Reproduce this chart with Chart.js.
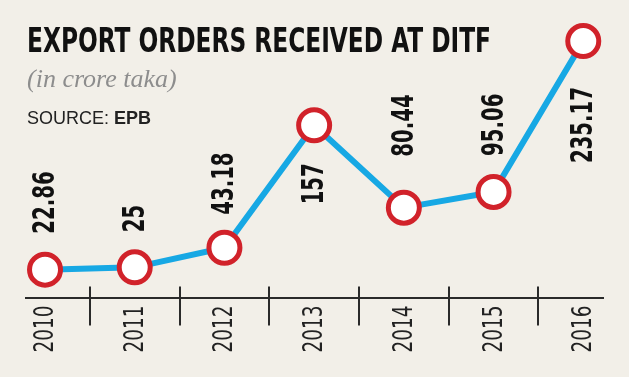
<!DOCTYPE html>
<html>
<head>
<meta charset="utf-8">
<script src="https://cdn.jsdelivr.net/npm/chart.js@4.4.1/dist/chart.umd.min.js"></script>
<style>
  html, body { margin: 0; padding: 0; background: #f2efe8; }
  #exportOrdersChart { display: block; }
</style>
</head>
<body>
<canvas id="exportOrdersChart" width="629" height="377"></canvas>
<script>
// Data
const years = ['2010', '2011', '2012', '2013', '2014', '2015', '2016'];
const orders = [22.86, 25, 43.18, 157, 80.44, 95.06, 235.17];
const orderLabels = ['22.86', '25', '43.18', '157', '80.44', '95.06', '235.17'];

// Texts
const chartTitle = 'EXPORT ORDERS RECEIVED AT DITF';
const chartUnit = '(in crore taka)';
const sourceLead = 'SOURCE: ';
const sourceName = 'EPB';

// Label placement: gap from marker centre, negative = below the marker
const labelGaps = [36, 35, 33, -38, 51, 36, -46];

const narrow = "'Liberation Sans Narrow', 'Arial Narrow', 'DejaVu Sans Condensed', sans-serif";

const headerPlugin = {
    id: 'header',
    beforeDraw(chart) {
        const ctx = chart.ctx;
        ctx.save();
        ctx.fillStyle = '#f2efe8';
        ctx.fillRect(0, 0, chart.width, chart.height);

        ctx.textBaseline = 'alphabetic';
        ctx.textAlign = 'left';
        ctx.fillStyle = '#111';
        ctx.font = "bold 34px " + narrow;
        ctx.fillText(chartTitle, 27, 52, 464);

        ctx.fillStyle = '#8d8d8d';
        ctx.font = "italic 26px 'Liberation Serif', 'DejaVu Serif', serif";
        ctx.fillText(chartUnit, 27, 87);

        ctx.fillStyle = '#222';
        ctx.font = "18px 'Liberation Sans', Arial, sans-serif";
        ctx.fillText(sourceLead, 27, 124);
        const leadW = ctx.measureText(sourceLead).width;
        ctx.font = "bold 18px 'Liberation Sans', Arial, sans-serif";
        ctx.fillText(sourceName, 27 + leadW, 124);
        ctx.restore();
    }
};

// Small separators between the years, crossing the axis line,
// plus the condensed year labels under the axis
const axisPlugin = {
    id: 'axisMarks',
    beforeDatasetsDraw(chart) {
        const ctx = chart.ctx;
        const x = chart.scales.x;
        const base = chart.chartArea.bottom;
        ctx.save();
        ctx.strokeStyle = '#2a2a2a';
        ctx.lineWidth = 2;
        for (let i = 0; i < years.length - 1; i++) {
            const px = Math.round(x.getPixelForValue(i + 0.5));
            ctx.beginPath();
            ctx.moveTo(px, base - 11);
            ctx.lineTo(px, base + 28);
            ctx.stroke();
        }

        ctx.fillStyle = '#222';
        ctx.font = "27px " + narrow;
        ctx.textBaseline = 'middle';
        ctx.textAlign = 'right';
        const squeeze = 47 / ctx.measureText('2010').width;
        years.forEach((yr, i) => {
            ctx.save();
            ctx.translate(x.getPixelForValue(i) + 1, base + 8);
            ctx.rotate(-Math.PI / 2);
            ctx.scale(squeeze, 1);
            ctx.fillText(yr, 0, 0);
            ctx.restore();
        });
        ctx.restore();
    }
};

// Rotated value labels
const valueLabelPlugin = {
    id: 'valueLabels',
    afterDatasetsDraw(chart) {
        const ctx = chart.ctx;
        const meta = chart.getDatasetMeta(0);
        ctx.save();
        ctx.fillStyle = '#111';
        ctx.font = "bold 31px " + narrow;
        ctx.textBaseline = 'middle';
        const squeeze = 76 / ctx.measureText('235.17').width;
        meta.data.forEach((pt, i) => {
            const gap = labelGaps[i];
            ctx.save();
            ctx.translate(pt.x + 1, pt.y - gap);
            ctx.textAlign = gap >= 0 ? 'left' : 'right';
            ctx.rotate(-Math.PI / 2);
            ctx.scale(squeeze, 1);
            ctx.fillText(orderLabels[i], 0, 0);
            ctx.restore();
        });
        ctx.restore();
    }
};

const ctx = document.getElementById('exportOrdersChart').getContext('2d');
const exportOrdersChart = new Chart(ctx, {
    type: 'line',
    data: {
        datasets: [{
            label: 'Export orders',
            data: orders.map((v, i) => ({ x: i, y: v })),
            borderColor: '#17a8e4',
            borderWidth: 6,
            tension: 0,
            fill: false,
            pointRadius: 15.5,
            pointBorderWidth: 5,
            pointBackgroundColor: '#ffffff',
            pointBorderColor: '#d1222a',
            clip: false
        }]
    },
    options: {
        responsive: false,
        animation: false,
        layout: {
            padding: { top: 20, left: 26, right: 26, bottom: 0 }
        },
        scales: {
            x: {
                type: 'linear',
                min: -0.212,
                max: 6.22,
                grid: { display: false, drawTicks: false },
                border: { display: true, color: '#2a2a2a', width: 2 },
                afterFit(scale) { scale.height = 79.5; },
                ticks: { display: false, stepSize: 1 }
            },
            y: {
                display: false,
                min: -3.03,
                max: 254.3
            }
        },
        plugins: {
            legend: { display: false },
            tooltip: { enabled: false }
        }
    },
    plugins: [headerPlugin, axisPlugin, valueLabelPlugin]
});
</script>
</body>
</html>
